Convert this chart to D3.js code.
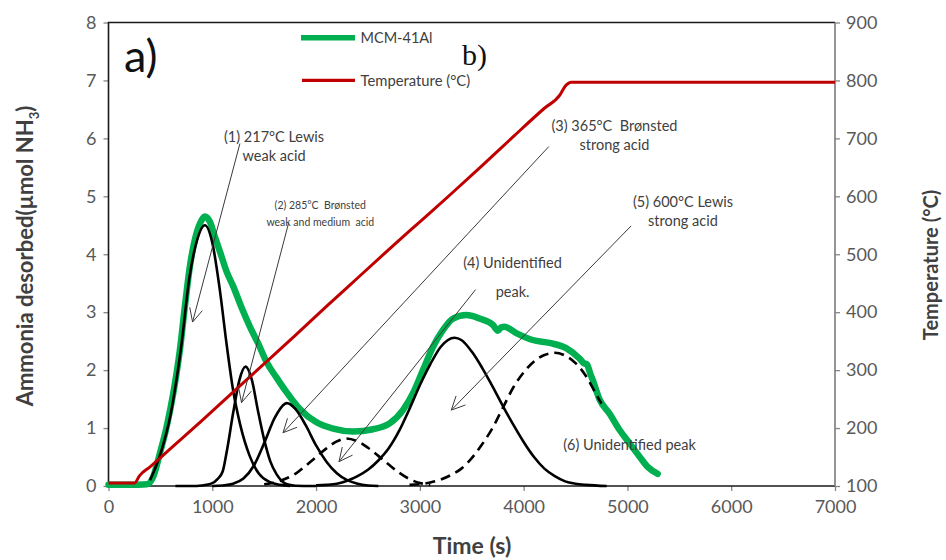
<!DOCTYPE html>
<html><head><meta charset="utf-8">
<script src="https://cdn.jsdelivr.net/npm/d3@7"></script>
<style>
html,body{margin:0;padding:0;background:#fff;}
svg{display:block;font-family:Lato,"Open Sans",sans-serif;}
text{white-space:pre;}
</style></head>
<body>
<script>
// ---------- data ----------
const timeTicks = [0,1000,2000,3000,4000,5000,6000,7000];
const ammoniaTicks = [0,1,2,3,4,5,6,7,8];
const tempTicks = [100,200,300,400,500,600,700,800,900];

// MCM-41Al desorption signal (time s, µmol NH3)
const mcmTime = [0,200,370,431,496,560,624,688,736,784,832,881,929,977,1025,1073,1138,1201,1282,1362,1442,1523,1619,1715,1843,2004,2164,2356,2549,2709,2837,2934,3030,3126,3222,3319,3448,3576,3704,3752,3785,3816,3929,4088,4249,4410,4538,4580,4610,4640,4666,4730,4827,4923,5019,5116,5195,5292];
const mcmNH3  = [0.02,0.02,0.03,0.16,0.57,1.02,1.6,2.35,3.1,3.79,4.25,4.53,4.65,4.56,4.3,4.05,3.7,3.45,3.08,2.75,2.46,2.14,1.87,1.62,1.33,1.1,0.99,0.94,0.98,1.08,1.31,1.6,2.0,2.4,2.69,2.89,2.95,2.89,2.78,2.68,2.74,2.75,2.64,2.52,2.47,2.38,2.2,2.12,2.1,1.95,1.83,1.5,1.25,0.97,0.74,0.51,0.33,0.21];

// Temperature programme (time s, °C)
const tempTime = [0,250,300,400,600,900,1200,1500,1800,2100,2400,2700,3000,3300,3600,3900,4200,4350,4400,4460,4700,7000];
const tempC    = [105,105,118,133,165,213,262,311,360,410,459,508,556,604,653,703,752,775,790,797,797,797];

// Deconvoluted peaks (time s, µmol NH3)
const peak1Time = [400,500,600,700,780,850,929,1000,1070,1140,1200,1270,1360,1450,1550,1650,1750];
const peak1Val  = [0.1,0.55,1.25,2.4,3.6,4.22,4.5,4.2,3.42,2.42,1.66,1.05,0.52,0.21,0.07,0.02,0];
const peak2Time = [645,800,900,1000,1050,1100,1140,1200,1260,1320,1380,1440,1500,1560,1620,1680,1740,1800,2000];
const peak2Val  = [0,0,0.01,0.05,0.12,0.25,0.6,1.25,1.82,2.06,1.84,1.3,0.8,0.42,0.2,0.07,0.02,0.005,0];
const peak3Time = [1000,1100,1200,1300,1400,1500,1600,1700,1720,1800,1900,2000,2100,2200,2300,2400,2500,2600];
const peak3Val  = [0,0.01,0.04,0.13,0.35,0.74,1.17,1.42,1.43,1.33,1.05,0.7,0.42,0.22,0.1,0.04,0.01,0];
const peak4Time = [1500,1600,1700,1800,1900,2000,2100,2200,2290,2400,2500,2600,2700,2800,2900,3000,3100];
const peak4Val  = [0.03,0.06,0.12,0.21,0.35,0.5,0.65,0.77,0.82,0.77,0.66,0.52,0.37,0.23,0.12,0.05,0.02];
const peak5Time = [2000,2100,2200,2300,2400,2500,2600,2700,2800,2900,3000,3100,3200,3335,3400,3500,3600,3700,3800,3900,4000,4100,4200,4300,4400,4500,4600,4800];
const peak5Val  = [0.01,0.02,0.04,0.09,0.17,0.28,0.44,0.65,0.95,1.33,1.74,2.1,2.4,2.56,2.52,2.32,2.04,1.72,1.38,1.06,0.76,0.5,0.3,0.17,0.08,0.04,0.02,0];
const peak6Time = [2900,3000,3100,3200,3300,3400,3500,3600,3700,3800,3900,4000,4100,4200,4300,4400,4500,4600,4700,4750];
const peak6Val  = [0.02,0.03,0.06,0.11,0.19,0.3,0.48,0.72,1.0,1.35,1.7,1.96,2.15,2.26,2.3,2.25,2.12,1.9,1.58,1.42];

// Annotations: label lines, label anchor (time, NH3), arrow from/to (time, NH3)
const annotations = [
  {lines:["(1) 217°C Lewis","weak acid"], at:[1595,5.93], dy:19, size:14.5, from:[1266,5.91], to:[810,2.83]},
  {lines:["(2) 285°C  Brønsted","weak and medium  acid"], at:[2040,4.78], dy:16.5, size:10.5, from:[1737,4.55], to:[1282,1.44]},
  {lines:["(3) 365°C  Brønsted","strong acid"], at:[4875,6.12], dy:18.5, size:14.5, from:[4243,5.86], to:[1682,0.92]},
  {lines:["(4) Unidentified","peak."], at:[3893,3.76], dy:29, size:14.5, from:[3537,3.39], to:[2221,0.42]},
  {lines:["(5) 600°C Lewis","strong acid"], at:[5535,4.82], dy:19, size:14.5, from:[5036,4.49], to:[3303,1.31]},
  {lines:["(6) Unidentified peak"], at:[5020,0.62], dy:0, size:14.5, from:null, to:null}
];

// ---------- layout ----------
const W = 946, H = 560;
const L = 108.5, R = 835, T = 22.5, B = 486;
const svg = d3.select("body").append("svg").attr("width", W).attr("height", H);

const x = d3.scaleLinear().domain([0,7000]).range([L,R]);
const y = d3.scaleLinear().domain([0,8]).range([B,T]);
const yT = d3.scaleLinear().domain([100,900]).range([B,T]);

// axes
const gx = svg.append("g").attr("transform",`translate(0,${B})`)
  .call(d3.axisBottom(x).tickValues(timeTicks).tickSize(5).tickPadding(9).tickFormat(d3.format("d")));
const gy = svg.append("g").attr("transform",`translate(${L},0)`)
  .call(d3.axisLeft(y).tickValues(ammoniaTicks).tickSize(5).tickPadding(7));
const gyr = svg.append("g").attr("transform",`translate(${R},0)`)
  .call(d3.axisRight(yT).tickValues(tempTicks).tickSize(5).tickPadding(6));
[gx,gy,gyr].forEach(g=>{
  g.select(".domain").remove();
  g.selectAll(".tick line").attr("stroke","#868686").attr("stroke-width",1.3);
  g.selectAll(".tick text").attr("fill","#595959").style("font-size","18px").style("font-family","Lato, sans-serif");
});

// frame
svg.append("path").attr("d",`M${R},${T}H${L}V${B}H${R}`).attr("fill","none").attr("stroke","#1a1a1a").attr("stroke-width",1.6);
svg.append("line").attr("x1",R).attr("x2",R).attr("y1",T).attr("y2",B).attr("stroke","#7a7a7a").attr("stroke-width",1.6);

const plot = svg.append("g");
const lineV = (ts, vs, ys) => d3.line().x((d,i)=>x(ts[i])).y((d,i)=>ys(vs[i])).curve(d3.curveMonotoneX)(ts);

// green signal
plot.append("path").attr("d", lineV(mcmTime, mcmNH3, y)).attr("fill","none")
  .attr("stroke","#00b050").attr("stroke-width",6.5).attr("stroke-linejoin","round").attr("stroke-linecap","round");

// peaks
const solid = [[peak1Time,peak1Val],[peak2Time,peak2Val],[peak3Time,peak3Val],[peak5Time,peak5Val]];
const dashed = [[peak4Time,peak4Val],[peak6Time,peak6Val]];
solid.forEach(([t,v])=>plot.append("path").attr("d",lineV(t,v,y)).attr("fill","none").attr("stroke","#000").attr("stroke-width",2.6));
dashed.forEach(([t,v])=>plot.append("path").attr("d",lineV(t,v,y)).attr("fill","none").attr("stroke","#000").attr("stroke-width",2.6).attr("stroke-dasharray","10,6"));

// temperature
plot.append("path").attr("d", d3.line().x((d,i)=>x(tempTime[i])).y((d,i)=>yT(tempC[i])).curve(d3.curveMonotoneX)(tempTime))
  .attr("fill","none").attr("stroke","#c00000").attr("stroke-width",3);

// annotations
const ann = svg.append("g");
annotations.forEach(a=>{
  const t = ann.append("text").attr("text-anchor","middle").attr("fill","#404040")
    .attr("xml:space","preserve").style("font-size",a.size+"px");
  a.lines.forEach((ln,i)=>{
    t.append("tspan").attr("x",x(a.at[0])).attr("y",y(a.at[1])+i*a.dy).text(ln);
  });
  if(a.from){
    const x1=x(a.from[0]), y1=y(a.from[1]), x2=x(a.to[0]), y2=y(a.to[1]);
    ann.append("line").attr("x1",x1).attr("y1",y1).attr("x2",x2).attr("y2",y2).attr("stroke","#3a3a3a").attr("stroke-width",1);
    const ang = Math.atan2(y1-y2, x1-x2), len = 15, sp = 0.45;
    const p1=[x2+len*Math.cos(ang+sp), y2+len*Math.sin(ang+sp)];
    const p2=[x2+len*Math.cos(ang-sp), y2+len*Math.sin(ang-sp)];
    ann.append("path").attr("d",`M${p1}L${x2},${y2}L${p2}`).attr("fill","none").attr("stroke","#3a3a3a").attr("stroke-width",1);
  }
});

// legend
const leg = svg.append("g");
leg.append("line").attr("x1",301).attr("x2",355).attr("y1",37.7).attr("y2",37.7).attr("stroke","#00b050").attr("stroke-width",5.5);
leg.append("text").attr("x",360.5).attr("y",42.7).attr("fill","#404040").style("font-size","14.5px").text("MCM-41Al");
leg.append("line").attr("x1",302).attr("x2",355).attr("y1",80.3).attr("y2",80.3).attr("stroke","#c00000").attr("stroke-width",3.2);
leg.append("text").attr("x",360.5).attr("y",85.7).attr("fill","#404040").style("font-size","14.8px").text("Temperature (°C)");

// panel letters
svg.append("text").attr("x",124).attr("y",72).attr("fill","#111").style("font-size","45px").text("a)");
svg.append("text").attr("x",462).attr("y",65).attr("fill","#111").style("font-family","'Liberation Serif','DejaVu Serif',serif").style("font-size","30px").text("b)");

// axis titles
const yl = svg.append("text").attr("transform","translate(33,256) rotate(-90)").attr("text-anchor","middle")
  .attr("fill","#404040").style("font-size","22px").style("font-weight","bold");
yl.append("tspan").text("Ammonia desorbed(µmol NH");
yl.append("tspan").attr("dy",6).style("font-size","13px").text("3");
yl.append("tspan").attr("dy",-6).text(")");
svg.append("text").attr("transform","translate(938,265) rotate(-90)").attr("text-anchor","middle")
  .attr("fill","#404040").style("font-size","20px").style("font-weight","bold").text("Temperature (°C)");
svg.append("text").attr("x",472).attr("y",554).attr("text-anchor","middle")
  .attr("fill","#404040").style("font-size","23px").style("font-weight","bold").text("Time (s)");
</script>
</body></html>
